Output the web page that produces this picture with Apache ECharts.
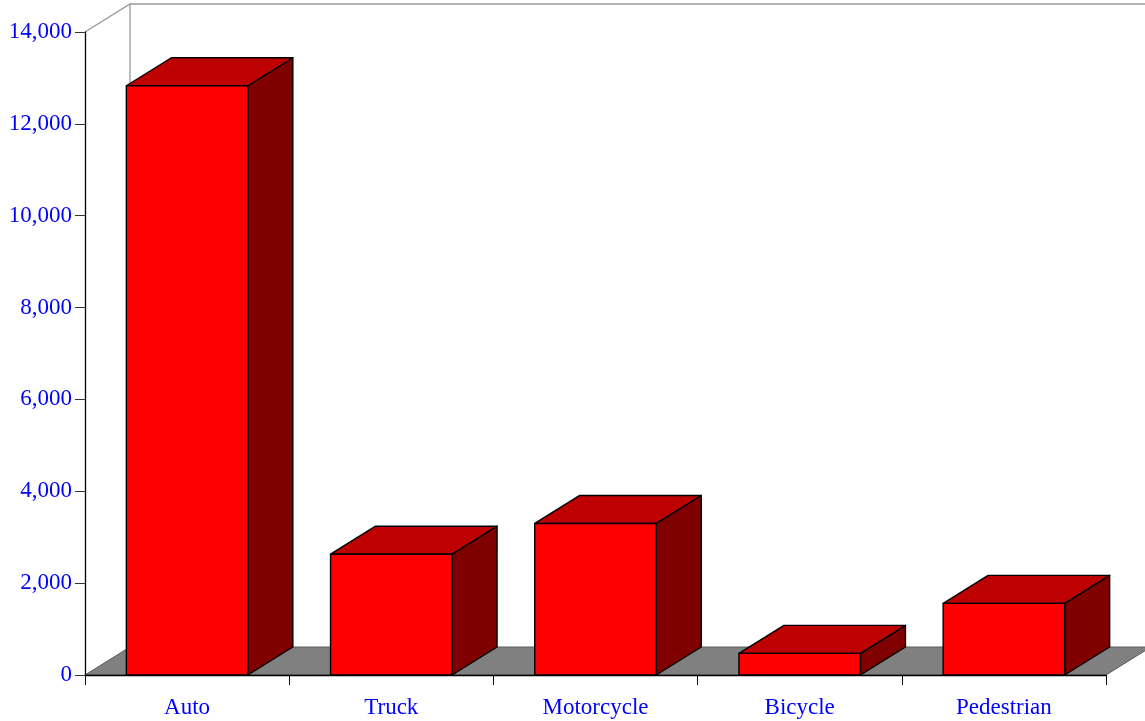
<!DOCTYPE html>
<html>
<head>
<meta charset="utf-8">
<script src="https://cdn.jsdelivr.net/npm/echarts@6/dist/echarts.min.js"></script>
<style>
html,body{margin:0;padding:0;background:#fff;}
#chart{width:1145px;height:721px;}
</style>
</head>
<body>
<div id="chart"></div>
<script>
// ---- data ----
const categories = ['Auto', 'Truck', 'Motorcycle', 'Bicycle', 'Pedestrian'];
const values = [12830, 2630, 3300, 470, 1560];
const yTicks = { min: 0, max: 14000, interval: 2000 };

// ---- style ----
const DEPTH_X = 45, DEPTH_Y = 28;
const BAR_RATIO = 0.595;
const FONT = '"Liberation Serif", "Times New Roman", serif';
const LABEL_COLOR = '#0000ff';

const chart = echarts.init(document.getElementById('chart'), null, { renderer: 'canvas' });

function renderFloor(params, api) {
  const cs = params.coordSys;
  const gx = cs.x, gy = cs.y, gw = cs.width, gh = cs.height;
  const by = gy + gh;
  return {
    type: 'group',
    children: [
      { type: 'polygon', shape: { points: [[gx, by], [gx + DEPTH_X, by - DEPTH_Y], [gx + gw + DEPTH_X, by - DEPTH_Y], [gx + gw, by]] },
        style: { fill: '#808080', stroke: '#5a5a5a', lineWidth: 1 } },
      { type: 'polyline', shape: { points: [[gx, gy], [gx + DEPTH_X, gy - DEPTH_Y], [gx + gw + DEPTH_X + 10, gy - DEPTH_Y]] },
        style: { fill: null, stroke: '#999999', lineWidth: 1.3 } },
      { type: 'line', shape: { x1: gx + DEPTH_X, y1: gy - DEPTH_Y, x2: gx + DEPTH_X, y2: by - DEPTH_Y },
        style: { stroke: '#999999', lineWidth: 1.3 } }
    ]
  };
}

function renderBar(params, api) {
  const idx = api.value(0), v = api.value(1);
  const base = api.coord([idx, 0]);
  const top = api.coord([idx, v]);
  const w = api.size([1, 0])[0] * BAR_RATIO;
  const x0 = base[0] - w / 2, x1 = base[0] + w / 2;
  const ty = top[1], by = base[1];
  const stroke = { stroke: '#000', lineWidth: 1.4, lineJoin: 'round' };
  return {
    type: 'group',
    children: [
      { type: 'polygon', shape: { points: [[x1, ty], [x1 + DEPTH_X, ty - DEPTH_Y], [x1 + DEPTH_X, by - DEPTH_Y], [x1, by]] },
        style: Object.assign({ fill: '#800000' }, stroke) },
      { type: 'polygon', shape: { points: [[x0, ty], [x1, ty], [x1 + DEPTH_X, ty - DEPTH_Y], [x0 + DEPTH_X, ty - DEPTH_Y]] },
        style: Object.assign({ fill: '#bf0000' }, stroke) },
      { type: 'rect', shape: { x: x0, y: ty, width: w, height: by - ty },
        style: Object.assign({ fill: '#ff0000' }, stroke) }
    ]
  };
}

chart.setOption({
  animation: false,
  backgroundColor: '#ffffff',
  grid: { left: 85, right: 39, top: 32, bottom: 46, containLabel: false },
  xAxis: {
    type: 'category',
    data: categories,
    boundaryGap: true,
    axisLine: { show: true, lineStyle: { color: '#000', width: 1.3 } },
    axisTick: { show: true, length: 10, inside: false, alignWithLabel: false, lineStyle: { color: '#000' } },
    axisLabel: { color: LABEL_COLOR, fontFamily: FONT, fontSize: 23, margin: 21 },
    splitLine: { show: false },
    z: 5
  },
  yAxis: {
    type: 'value',
    min: yTicks.min, max: yTicks.max, interval: yTicks.interval,
    axisLine: { show: true, lineStyle: { color: '#000', width: 1.3 } },
    axisTick: { show: true, length: 10, inside: false, lineStyle: { color: '#333' } },
    axisLabel: {
      color: LABEL_COLOR, fontFamily: FONT, fontSize: 23, margin: 13,
      formatter: function (v) { return v.toLocaleString('en-US'); }
    },
    splitLine: { show: false },
    z: 5
  },
  series: [
    { type: 'custom', renderItem: renderFloor, data: [[0, 0]], clip: false, z: 1, silent: true },
    { type: 'custom', renderItem: renderBar, data: values.map((v, i) => [i, v]),
      encode: { x: 0, y: 1 }, clip: false, z: 3 }
  ]
});
</script>
</body>
</html>
